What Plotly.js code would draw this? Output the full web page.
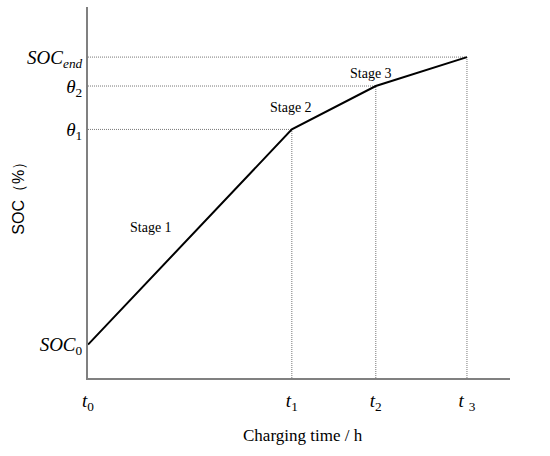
<!DOCTYPE html>
<html>
<head>
<meta charset="utf-8">
<script src="https://cdn.plot.ly/plotly-3.0.1.min.js"></script>
<style>html,body{margin:0;padding:0;background:#fff;}#chart{width:550px;height:456px;}</style>
</head>
<body>
<div id="chart"></div>
<script>
// Breakpoints of the charging curve (arbitrary units)
var timePoints = [0, 4.83, 6.82, 8.98];
var socPoints = [9, 67, 78.7, 86.5];
var xTickText = ['<i>t</i><sub>0</sub>', '<i>t</i><sub>1</sub>', '<i>t</i><sub>2</sub>', '<i>t</i> <sub>3</sub>'];
var yTickText = ['<i>SOC</i><sub>0</sub>', '<i>θ</i><sub>1</sub>', '<i>θ</i><sub>2</sub>', '<i>SOC</i><sub><i>end</i></sub>'];
var stageLabels = ['Stage 1', 'Stage 2', 'Stage 3'];
var stageLabelX = [1.5, 4.8, 6.7];
var stageLabelY = [40.5, 73, 82];
var xMax = 10, yMax = 100;

var serif = 'Liberation Serif, Times New Roman, serif';
var traces = [];
// dotted guide lines from each breakpoint (except the start) to the axes
for (var i = 1; i < timePoints.length; i++) {
  traces.push({x: [0, timePoints[i]], y: [socPoints[i], socPoints[i]], mode: 'lines',
    line: {color: '#777777', width: 1, dash: '1px,1px'}, hoverinfo: 'skip', showlegend: false});
  traces.push({x: [timePoints[i], timePoints[i]], y: [0, socPoints[i]], mode: 'lines',
    line: {color: '#777777', width: 1, dash: '1px,1px'}, hoverinfo: 'skip', showlegend: false});
}
traces.push({x: timePoints, y: socPoints, mode: 'lines',
  line: {color: '#000', width: 2}, showlegend: false});

var annotations = [];
for (var j = 0; j < stageLabels.length; j++) {
  annotations.push({x: stageLabelX[j], y: stageLabelY[j], xref: 'x', yref: 'y', text: stageLabels[j],
    showarrow: false, font: {family: serif, size: 14, color: '#000'}});
}
annotations.push({x: 0.51, y: -0.155, xref: 'paper', yref: 'paper', text: 'Charging time / h',
  showarrow: false, xanchor: 'center', yanchor: 'middle', font: {family: serif, size: 17, color: '#000'}});
annotations.push({x: -0.165, y: 0.495, xref: 'paper', yref: 'paper', text: 'SOC（%）', textangle: -90,
  showarrow: false, xanchor: 'center', yanchor: 'middle', font: {family: 'Liberation Sans, Arial, sans-serif', size: 16, color: '#000'}});

var layout = {
  width: 550, height: 456,
  margin: {l: 88, r: 40, t: 7, b: 78},
  paper_bgcolor: '#fff', plot_bgcolor: '#fff',
  showlegend: false,
  xaxis: {range: [0, xMax], showgrid: false, zeroline: false, showline: true, linecolor: '#808080', linewidth: 2,
    tickmode: 'array', tickvals: timePoints, ticktext: xTickText, ticks: '', ticklen: 0, ticklabelstandoff: 4,
    tickfont: {family: serif, size: 19, color: '#000'}, fixedrange: true},
  yaxis: {range: [0, yMax], showgrid: false, zeroline: false, showline: true, linecolor: '#808080', linewidth: 2,
    tickmode: 'array', tickvals: socPoints, ticktext: yTickText, ticks: '', ticklen: 0,
    tickfont: {family: serif, size: 19, color: '#000'}, fixedrange: true},
  annotations: annotations
};
Plotly.newPlot('chart', traces, layout, {displayModeBar: false, staticPlot: true});
</script>
</body>
</html>
